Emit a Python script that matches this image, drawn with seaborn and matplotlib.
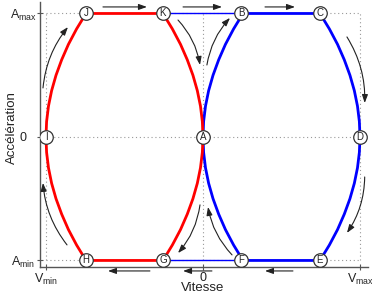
import matplotlib
matplotlib.use("Agg")
import matplotlib.pyplot as plt
import seaborn as sns
import pandas as pd

sns.set_theme(style="white")
plt.rcParams['font.family'] = ['Liberation Sans', 'DejaVu Sans']

# ---- data ----
acc_levels = [1.0, 0.875, 0.75, 0.625, 0.5, 0.375, 0.25, 0.125, 0.0,
              -0.125, -0.25, -0.375, -0.5, -0.625, -0.75, -0.875, -1.0]
# red inner arc K -> A -> G
red_inner_v = [-0.255, -0.195, -0.143, -0.100, -0.064, -0.036, -0.016, -0.004, 0.0,
               -0.004, -0.016, -0.036, -0.064, -0.100, -0.143, -0.195, -0.255]
# red outer arc J -> I -> H
red_outer_v = [-0.745, -0.805, -0.857, -0.900, -0.936, -0.964, -0.984, -0.996, -1.0,
               -0.996, -0.984, -0.964, -0.936, -0.900, -0.857, -0.805, -0.745]
# blue inner arc B -> A -> F
blue_inner_v = [0.255, 0.195, 0.143, 0.100, 0.064, 0.036, 0.016, 0.004, 0.0,
                0.004, 0.016, 0.036, 0.064, 0.100, 0.143, 0.195, 0.255]
# blue outer arc C -> D -> E
blue_outer_v = [0.745, 0.805, 0.857, 0.900, 0.936, 0.964, 0.984, 0.996, 1.0,
                0.996, 0.984, 0.964, 0.936, 0.900, 0.857, 0.805, 0.745]

point_labels = ['A', 'B', 'C', 'D', 'E', 'F', 'G', 'H', 'I', 'J', 'K']
point_v = [0.0, 0.245, 0.745, 1.0, 0.745, 0.245, -0.255, -0.745, -1.0, -0.745, -0.255]
point_a = [0.0, 1.0, 1.0, 0.0, -1.0, -1.0, -1.0, -1.0, 0.0, 1.0, 1.0]

xtick_vals = [-1, 0, 1]
xtick_labels = ['V$_\\mathregular{min}$', '0', 'V$_\\mathregular{max}$']
ytick_vals = [-1, 0, 1]
ytick_labels = ['A$_\\mathregular{min}$', '0', 'A$_\\mathregular{max}$']

# arrows: (tail_v, tail_a, head_v, head_a, rad)
arrows = [
    (-0.637, 1.053, -0.357, 1.053, 0.0),
    (-0.127, 1.053, 0.121, 1.053, 0.0),
    (0.395, 1.053, 0.586, 1.053, 0.0),
    (0.573, -1.085, 0.395, -1.085, 0.0),
    (0.057, -1.085, -0.127, -1.085, 0.0),
    (-0.338, -1.085, -0.605, -1.085, 0.0),
    (-1.019, 0.397, -0.86, 0.89, -0.15),
    (-0.866, -0.874, -1.019, -0.372, -0.15),
    (-0.159, 0.947, -0.019, 0.583, -0.15),
    (0.025, 0.583, 0.172, 0.964, -0.15),
    (-0.019, -0.55, -0.159, -0.94, -0.15),
    (0.185, -0.955, 0.032, -0.567, -0.15),
    (0.917, 0.81, 1.03, 0.275, -0.15),
    (1.03, -0.324, 0.917, -0.777, -0.15),
]

# ---- build paths ----
def closed_loop(inner_v, outer_v):
    vs = [outer_v[0]] + list(inner_v) + list(reversed(outer_v))
    as_ = [acc_levels[0]] + list(acc_levels) + list(reversed(acc_levels))
    return vs, as_

rv, ra = closed_loop(red_inner_v, red_outer_v)
bv, ba = closed_loop(blue_inner_v, blue_outer_v)
red_df = pd.DataFrame({'V': rv, 'A': ra})
blue_df = pd.DataFrame({'V': bv, 'A': ba})
thin_df = pd.DataFrame({
    'V': [point_v[10], point_v[1], point_v[6], point_v[5]],
    'A': [point_a[10], point_a[1], point_a[6], point_a[5]],
    'seg': ['top', 'top', 'bot', 'bot'],
})
pts_df = pd.DataFrame({'V': point_v, 'A': point_a, 'lab': point_labels})

fig = plt.figure(figsize=(3.72, 2.95), dpi=100)
ax = fig.add_axes([40 / 372, 28 / 295, 328 / 372, 265 / 295])

# dotted reference lines
grid_kw = dict(color='#999999', lw=0.8, linestyles=(0, (1, 2.5)), zorder=0)
ax.vlines([-1, 0, 1], -1, 1, **grid_kw)
ax.hlines([-1, 0, 1], -1, 1, **grid_kw)

sns.lineplot(data=thin_df, x='V', y='A', units='seg', estimator=None, sort=False,
             color='#0000ff', lw=1.0, ax=ax, zorder=2)
sns.lineplot(data=blue_df, x='V', y='A', estimator=None, sort=False,
             color='#0000ff', lw=2.0, ax=ax, zorder=3)
sns.lineplot(data=red_df, x='V', y='A', estimator=None, sort=False,
             color='#ff0000', lw=2.0, ax=ax, zorder=3)
sns.scatterplot(data=pts_df, x='V', y='A', s=95, color='white', edgecolor='#333333',
                linewidth=0.9, ax=ax, zorder=5)
for lab, v, a in zip(point_labels, point_v, point_a):
    ax.text(v, a, lab, ha='center', va='center', fontsize=7, color='#222222', zorder=6)

for tv, ta, hv, ha_, rad in arrows:
    ax.annotate('', xy=(hv, ha_), xytext=(tv, ta), annotation_clip=False,
                arrowprops=dict(arrowstyle='-|>,head_length=0.7,head_width=0.25',
                                connectionstyle=f'arc3,rad={rad}',
                                color='#222222', lw=0.8, mutation_scale=7,
                                shrinkA=0, shrinkB=0))

ax.set_xlim(-1.038, 1.051)
ax.set_ylim(-1.053, 1.093)
ax.set_xticks(xtick_vals)
ax.set_xticklabels(xtick_labels, fontsize=9)
ax.set_yticks(ytick_vals)
ax.set_yticklabels(ytick_labels, fontsize=9)
for lab in ax.get_yticklabels():
    lab.set_horizontalalignment('center')
ax.tick_params(axis='both', direction='inout', length=4, width=0.8, color='#555555',
               labelcolor='#222222')
ax.tick_params(axis='y', pad=10)
ax.tick_params(axis='x', pad=1.5)
ax.tick_params(left=True, bottom=True)

for s in ['top', 'right']:
    ax.spines[s].set_visible(False)
for s in ['left', 'bottom']:
    ax.spines[s].set_color('#555555')
    ax.spines[s].set_linewidth(1.0)

ax.set_xlabel('Vitesse', fontsize=9.5, color='#222222')
ax.set_ylabel('Accélération', fontsize=9.5, color='#222222')
ax.xaxis.set_label_coords(0.497, -0.058)
ax.yaxis.set_label_coords(-0.066, 0.525)

fig.savefig('out.png', dpi=100)
